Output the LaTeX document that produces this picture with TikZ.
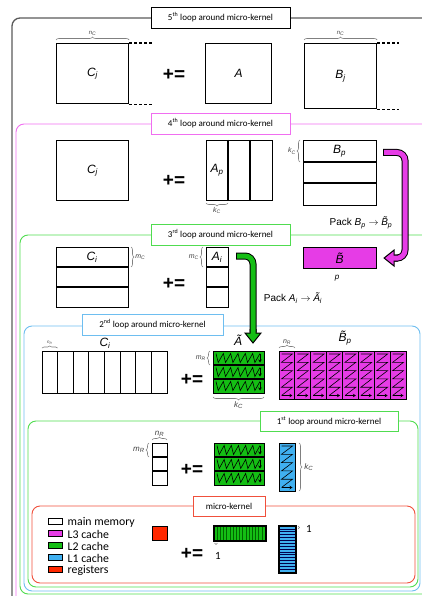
\documentclass[tikz,border=0pt]{standalone}
\usepackage{fontspec}
\usepackage{graphicx}
\setmainfont{Carlito}
\newfontfamily\ar{Liberation Sans}
\usetikzlibrary{calc,arrows.meta,decorations.pathreplacing}
\definecolor{mag}{RGB}{230,60,230}
\definecolor{grn}{RGB}{20,190,20}
\definecolor{blu}{RGB}{64,176,240}
\definecolor{rd}{RGB}{255,40,0}
\definecolor{fpink}{RGB}{240,110,240}
\definecolor{fgreen}{RGB}{80,220,80}
\definecolor{fblue}{RGB}{110,190,240}
\definecolor{fred}{RGB}{240,80,60}
\definecolor{fgray}{RGB}{90,90,90}
\newcommand\tB{B^^^^0303}
\newcommand\zigA[4]{%
  \pgfmathsetmacro\zt{#2+2.5}\pgfmathsetmacro\zb{#4-2.5}%
  \pgfmathsetmacro\zs{#1+3}\pgfmathsetmacro\ze{#3-4}%
  \pgfmathsetmacro\zd{(\ze-\zs)/6}%
  \draw[zig] (\zs,\zt) \foreach \i in {0,...,5}{ -- ({\zs+\i*\zd+2.2},\zb) -- ({\zs+(\i+1)*\zd},\zt)};
  \draw[zig,-{Stealth[length=3pt,width=3.5pt]}] (\ze,\zt) -- (\ze,\zb);
}
\newcommand\zigB[4]{%
  \pgfmathsetmacro\zl{#1+2.5}\pgfmathsetmacro\zr{#3-2.5}%
  \pgfmathsetmacro\zt{#2+3}\pgfmathsetmacro\zb{#4-3.5}%
  \pgfmathsetmacro\zd{(\zb-\zt)/5}%
  \draw[zig] (\zl,\zt) \foreach \i in {0,...,4}{ -- (\zr,{\zt+\i*\zd}) -- (\zl,{\zt+(\i+1)*\zd})};
  \draw[zig,-{Stealth[length=3pt,width=3.5pt]}] (\zl,\zb) -- (\zr,\zb);
}
\begin{document}
\begin{tikzpicture}[x=1pt,y=-1pt,
  mbox/.style={draw=black, line width=1.1pt, anchor=north west, inner sep=0pt, font=\ar\itshape\fontsize{12}{12}\selectfont},
  brc/.style={draw=black!50, line width=0.6pt, decorate, decoration={brace, amplitude=3pt}},
  sml/.style={font=\ar\itshape\fontsize{7}{7}\selectfont, text=black!75, inner sep=1pt},
  mlab/.style={font=\ar\itshape\fontsize{12}{12}\selectfont, inner sep=0pt},
  peq/.style={font=\ar\bfseries\fontsize{19}{19}\selectfont, inner sep=0pt},
  lbl/.style={fill=white, line width=0.9pt, minimum height=21pt, inner sep=0pt, font=\fontsize{9}{9}\selectfont},
  frm/.style={rounded corners=8pt, line width=0.9pt},
  zig/.style={line width=0.6pt, black},
  pack/.style={font=\ar\fontsize{10}{10}\selectfont, inner sep=0pt},
  leg/.style={font=\fontsize{11.8}{11.8}\selectfont, anchor=west, inner sep=0pt}
]
\useasboundingbox (0,0) rectangle (422,596);
% frames
\draw[frm, fgray, line width=1.3pt] (12,18) rectangle (470,650);
\draw[frm, fpink] (16,124) rectangle (470,650);
\draw[frm, fgreen] (20,235) rectangle (470,594);
\draw[frm, fblue] (24,326) rectangle (420,591);
\draw[frm, fgreen] (28,421) rectangle (418,587);
\draw[frm, fred] (32,506) rectangle (415,583);
% labels of frames
\node[lbl, draw=black, minimum width=139pt] (L5) at (220.5,17.5) {5\textsuperscript{th} loop around micro-kernel};
\node[lbl, draw=fpink, minimum width=139pt] (L4) at (220.5,123.5) {4\textsuperscript{th} loop around micro-kernel};
\node[lbl, draw=fgreen, minimum width=139pt] (L3) at (220.5,234.5) {3\textsuperscript{rd} loop around micro-kernel};
\node[lbl, draw=fblue, minimum width=141pt] (L2) at (152.5,324.5) {2\textsuperscript{nd} loop around micro-kernel};
\node[lbl, draw=fgreen, minimum width=138pt, minimum height=20pt] (L1) at (329,421) {1\textsuperscript{st} loop around micro-kernel};
\node[lbl, draw=fred, minimum width=72pt, minimum height=20pt] (LM) at (229,506) {micro-kernel};

% ===== 5th loop
\node[mbox, minimum width=72pt, minimum height=60pt] (Cj5) at (56,43) {C\textsubscript{j}};
\draw[line width=1.1pt, dash pattern=on 3pt off 2pt] (Cj5.north east) -- ++(23,0);
\draw[line width=1.1pt, dash pattern=on 3pt off 2pt] (Cj5.south east) -- ++(23,0);
\draw[brc] ([yshift=3pt]Cj5.north west) -- ([yshift=3pt]Cj5.north east) node[midway, above=3pt, sml, font=\ar\itshape\fontsize{6}{6}\selectfont] (nc1) {n\textsubscript{C}};
\node[peq] (pe5) at (174,75) {+=};
\node[mbox, minimum width=66pt, minimum height=60pt] (A5) at (205,43) {A};
\node[mbox, minimum width=72pt, minimum height=65pt] (Bj5) at (304,43) {B\textsubscript{j}};
\draw[line width=1.1pt, dash pattern=on 3pt off 2pt] (Bj5.north east) -- ++(22,0);
\draw[line width=1.1pt, dash pattern=on 3pt off 2pt] (Bj5.south east) -- ++(22,0);
\draw[brc] ([yshift=3pt]Bj5.north west) -- ([yshift=3pt]Bj5.north east) node[midway, above=3pt, sml, font=\ar\itshape\fontsize{6}{6}\selectfont] (nc2) {n\textsubscript{C}};

% ===== 4th loop
\node[mbox, minimum width=72pt, minimum height=60pt] (Cj4) at (56,140) {C\textsubscript{j}};
\node[peq] (pe4) at (174,181) {+=};
\node[mbox, minimum width=66pt, minimum height=60pt] (Ap) at (206,140) {};
\draw[line width=1.1pt] (228,140) -- (228,200) (250,140) -- (250,200);
\node[mlab] (Apl) at (217,170) {A\textsubscript{p}};
\draw[brc] (228,203) -- (206,203) node[midway, below=3pt, sml] (kc1) {k\textsubscript{C}};
\node[mbox, minimum width=73pt, minimum height=65pt] (Bp) at (303,140) {};
\draw[line width=1.1pt] (303,162) -- (376,162) (303,183) -- (376,183);
\node[mlab] (Bpl) at (339.5,151) {B\textsubscript{p}};
\draw[brc] (300,162) -- (300,140) node[midway, left=3pt, sml] (kc2) {k\textsubscript{C}};

% magenta pack arrow
\coordinate (mS) at ($(Bp.north east)+(7,12.5)$);
\coordinate (mC) at (405,0);
\node[mbox, minimum width=73pt, minimum height=21pt, fill=mag] (Bt) at (303,247) {};
\node[mlab] (Btl) at (339.5,258) {\tB};
\coordinate (mT) at ($(Bt.east)+(7,0)$);
\draw[line width=7pt, black, rounded corners=8pt] ($(mS)+(-1,0)$) -- (mS -| mC) -- (mT -| mC) -- ($(mT)+(11,0)$);
\draw[line width=5pt, mag, rounded corners=8pt] (mS) -- (mS -| mC) -- (mT -| mC) -- ($(mT)+(11,0)$);
\filldraw[fill=mag, draw=black, line width=1pt] ($(mT)+(14,-3)$) -- ($(mT)+(10,-3)$) -- ($(mT)+(10,-8)$) -- (mT) -- ($(mT)+(10,8)$) -- ($(mT)+(10,3)$) -- ($(mT)+(14,3)$);
\node[pack] (packB) at (361,223) {Pack \textit{B}\textsubscript{\textit{p}} $\rightarrow$ \textit{\tB}\textsubscript{\textit{p}}};
\node[sml, font=\ar\itshape\fontsize{8}{8}\selectfont, text=black] (pl) at (337,278) {p};

% ===== 3rd loop
\node[mbox, minimum width=72pt, minimum height=60pt] (Ci3) at (56,247) {};
\draw[line width=1.1pt] (56,267) -- (128,267) (56,287) -- (128,287);
\node[mlab] (Ci3l) at (92,257) {C\textsubscript{i}};
\draw[brc] (131,247) -- (131,267) node[midway, right=3pt, sml] (mc1) {m\textsubscript{C}};
\node[peq] (pe3) at (174,284) {+=};
\node[mbox, minimum width=22pt, minimum height=60pt] (Ai) at (206,247) {};
\draw[line width=1.1pt] (206,267) -- (228,267) (206,287) -- (228,287);
\node[mlab] (Ail) at (217,257) {A\textsubscript{i}};
\draw[brc] (203,267) -- (203,247) node[midway, left=3pt, sml] (mc2) {m\textsubscript{C}};

% ===== 2nd loop
\node[mbox, minimum width=125pt, minimum height=42pt] (Ci2) at (42,351) {};
\foreach \k in {1,...,7} \draw[line width=1.1pt] ({42+15.625*\k},351) -- ({42+15.625*\k},393);
\node[mlab] (Ci2l) at (105,343) {C\textsubscript{i}};
\draw[brc, decoration={brace, amplitude=2pt}] (42,348) -- (57.6,348) node[midway, above=2pt, sml, font=\ar\itshape\fontsize{4.5}{4.5}\selectfont] (nr1) {n\textsubscript{R}};
\node[peq] (pe2) at (192,380) {+=};
\node[mbox, minimum width=51pt, minimum height=42pt, fill=grn] (At2) at (213,351) {};
\draw[line width=1.1pt] (213,365) -- (264,365) (213,379) -- (264,379);
\zigA{213}{351}{264}{365}\zigA{213}{365}{264}{379}\zigA{213}{379}{264}{393}
\node[mlab] (At2l) at (238,340) {Ã};
\draw[brc] (210,365) -- (210,351) node[midway, left=3pt, sml] (mr1) {m\textsubscript{R}};
\draw[brc] (264,397) -- (213,397) node[midway, below=3pt, sml, font=\ar\itshape\fontsize{8}{8}\selectfont] (kc3) {k\textsubscript{C}};
\node[mbox, minimum width=127pt, minimum height=48pt, fill=mag] (Bp2) at (279,351) {};
\foreach \k in {1,...,7} \draw[line width=1.1pt] ({279+15.875*\k},351) -- ({279+15.875*\k},399);
\foreach \k in {0,...,7}{\pgfmathsetmacro\xa{279+15.875*\k}\pgfmathsetmacro\xb{\xa+15.875}\zigB{\xa}{351}{\xb}{399}}
\node[mlab] (Bp2l) at (345,338) {\tB\textsubscript{p}};
\draw[brc] (279,348) -- (295,348) node[midway, above=2pt, sml] (nr2) {n\textsubscript{R}};

% green pack arrow
\coordinate (gS) at ($(Ai.north east)+(8,9)$);
\coordinate (gT) at (253,343);
\draw[line width=7pt, black, rounded corners=8pt] ($(gS)+(-1,0)$) -- (gS -| gT) -- ($(gT)+(0,-11)$);
\draw[line width=5pt, grn, rounded corners=8pt] (gS) -- (gS -| gT) -- ($(gT)+(0,-11)$);
\filldraw[fill=grn, draw=black, line width=1pt] ($(gT)+(-3,-14)$) -- ($(gT)+(-3,-10)$) -- ($(gT)+(-8,-10)$) -- (gT) -- ($(gT)+(8,-10)$) -- ($(gT)+(3,-10)$) -- ($(gT)+(3,-14)$);
\node[pack] (packA) at (293,298) {Pack \textit{A}\textsubscript{\textit{i}} $\rightarrow$ \textit{Ã}\textsubscript{\textit{i}}};

% ===== 1st loop
\node[mbox, minimum width=15pt, minimum height=42pt] (C1) at (152,443) {};
\draw[line width=1.1pt] (152,457) -- (167,457) (152,471) -- (167,471);
\draw[brc] (152,440) -- (167,440) node[midway, above=2pt, sml, font=\ar\itshape\fontsize{8}{8}\selectfont] (nr3) {n\textsubscript{R}};
\draw[brc] (149,457) -- (149,443) node[midway, left=3pt, sml, font=\ar\itshape\fontsize{8}{8}\selectfont] (mr2) {m\textsubscript{R}};
\node[peq] (pe1) at (192,470) {+=};
\node[mbox, minimum width=50pt, minimum height=42pt, fill=grn] (At1) at (214,443) {};
\draw[line width=1.1pt] (214,457) -- (264,457) (214,471) -- (264,471);
\zigA{214}{443}{264}{457}\zigA{214}{457}{264}{471}\zigA{214}{471}{264}{485}
\node[mbox, minimum width=16pt, minimum height=48pt, fill=blu] (Bc1) at (279,443) {};
\zigB{279}{443}{295}{491}
\draw[brc] (299,443) -- (299,491) node[midway, right=4pt, sml, font=\ar\itshape\fontsize{8}{8}\selectfont] (kc4) {k\textsubscript{C}};

% ===== micro-kernel
\foreach \c/\t [count=\n from 0] in {white/main memory, mag/L3 cache, grn/L2 cache, blu/L1 cache, rd/registers}{
  \node[draw=black, line width=0.9pt, fill=\c, minimum width=14pt, minimum height=6pt, inner sep=0pt] (lg\n) at (55,{521+12*\n}) {};
  \node[leg] (lt\n) at (67.5,{522+12*\n}) {\t};
}
\node[mbox, minimum width=15pt, minimum height=14pt, fill=rd] (Reg) at (152,526) {};
\node[peq] (pe0) at (192,554) {+=};
\node[mbox, minimum width=51pt, minimum height=14pt, fill=grn] (Gb) at (214,526) {};
\foreach \k in {1,...,15} \draw[line width=0.7pt, green!40!black] ({214+3.19*\k},526) -- ({214+3.19*\k},540);
\draw[line width=1.1pt] (Gb.north west) rectangle (Gb.south east);
\draw[brc, decoration={brace, amplitude=1.5pt}] (217.5,543) -- (214.5,543);
\node[font=\fontsize{11}{11}\selectfont, inner sep=0pt] (one1) at (218,556) {1};
\node[mbox, minimum width=16pt, minimum height=46pt, fill=blu] (Bb) at (279,526) {};
\foreach \k in {1,...,15} \draw[line width=0.7pt, blue!30!black] (279,{526+2.875*\k}) -- (295,{526+2.875*\k});
\draw[line width=1.1pt] (Bb.north west) rectangle (Bb.south east);
\draw[brc, decoration={brace, amplitude=1.5pt}] (298,526) -- (298,529);
\node[font=\fontsize{11}{11}\selectfont, inner sep=0pt] (one2) at (309,529) {1};
\end{tikzpicture}
\end{document}
